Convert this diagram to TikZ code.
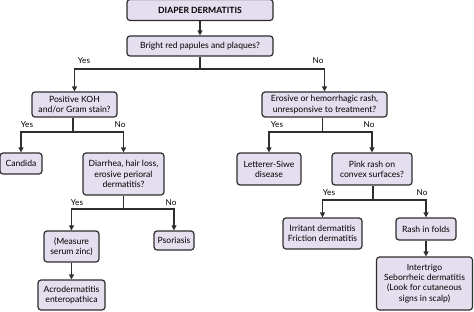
\documentclass[tikz,border=0pt]{standalone}
\usepackage{fontspec}
\setmainfont{Lato}
\usetikzlibrary{arrows.meta}
\definecolor{boxfill}{HTML}{E4DEEE}
\definecolor{edge}{HTML}{2E2E2E}
\tikzset{
  box/.style={draw=edge, line width=1.2pt, fill=boxfill, rounded corners=3pt, align=center,
    inner sep=0pt, font=\fontsize{8.6}{10.2}\selectfont, text=black},
  conn/.style={draw=edge, line width=1.2pt},
  arr/.style={conn, -{Triangle[length=5pt,width=5pt]}},
  lbl/.style={font=\fontsize{8.2}{9}\selectfont, inner sep=0pt}
}
\begin{document}
\begin{tikzpicture}[x=1pt, y=-1pt]
\useasboundingbox (0,0) rectangle (474,311);
\node[box, minimum width=146pt, minimum height=21pt, font=\fontsize{8.6}{10}\selectfont\bfseries] (title) at (200,10) {DIAPER DERMATITIS};
\node[box, minimum width=146pt, minimum height=20pt] (bright) at (200,46) {Bright red papules and plaques?};
\node[box, minimum width=85pt, minimum height=25pt] (koh) at (74.5,104.5) {Positive KOH\\and/or Gram stain?};
\node[box, minimum width=125pt, minimum height=25pt] (eros) at (324.5,104.5) {Erosive or hemorrhagic rash,\\unresponsive to treatment?};
\node[box, minimum width=42pt, minimum height=21pt] (cand) at (21,163.5) {Candida};
\node[box, minimum width=81pt, minimum height=42pt] (diar) at (123.5,174) {Diarrhea, hair loss,\\erosive perioral\\dermatitis?};
\node[box, minimum width=55pt, minimum height=31pt] (meas) at (71.5,246.5) {(Measure\\serum zinc)};
\node[box, minimum width=40pt, minimum height=19pt] (psor) at (174,240.5) {Psoriasis};
\node[box, minimum width=67pt, minimum height=30pt] (acro) at (71.5,295) {Acrodermatitis\\enteropathica};
\node[box, minimum width=64pt, minimum height=32pt] (lett) at (269,169) {Letterer-Siwe\\disease};
\node[box, minimum width=80pt, minimum height=32pt] (pink) at (372,169) {Pink rash on\\convex surfaces?};
\node[box, minimum width=79pt, minimum height=31pt] (irr) at (322.5,233.5) {Irritant dermatitis\\Friction dermatitis};
\node[box, minimum width=60pt, minimum height=22pt] (fold) at (426,229) {Rash in folds};
\node[box, minimum width=96pt, minimum height=53pt] (inter) at (424.5,283.5) {Intertrigo\\Seborrheic dermatitis\\(Look for cutaneous\\signs in scalp)};

\draw[arr] (title) -- (bright);
\coordinate (j1) at (200,69);
\draw[conn] (bright) -- (j1);
\draw[arr] (j1) -| (koh);
\draw[arr] (j1) -| (eros);
\node[lbl] (y1) at (84,61) {Yes};
\node[lbl] (n1) at (318,61) {No};

\coordinate (j2) at (73,132);
\draw[conn] (koh.south -| j2) -- (j2);
\draw[arr] (j2) -| (cand);
\draw[arr] (j2) -| (diar);
\node[lbl] (y2) at (27,125) {Yes};
\node[lbl] (n2) at (120,125) {No};

\coordinate (j3) at (322.5,132);
\draw[conn] (eros.south -| j3) -- (j3);
\draw[arr] (j3) -| (lett);
\draw[arr] (j3) -| (pink);
\node[lbl] (y3) at (277,125) {Yes};
\node[lbl] (n3) at (369,125) {No};

\coordinate (j4) at (123.5,209);
\draw[conn] (diar) -- (j4);
\draw[arr] (j4) -| (meas);
\draw[arr] (j4) -| (psor);
\node[lbl] (y4) at (77,203) {Yes};
\node[lbl] (n4) at (171,203) {No};

\coordinate (j5) at (373,200);
\draw[conn] (pink.south -| j5) -- (j5);
\draw[arr] (j5) -| (irr);
\draw[arr] (j5) -| (fold);
\node[lbl] (y5) at (329,193) {Yes};
\node[lbl] (n5) at (422,193) {No};

\draw[arr] (meas) -- (acro);
\draw[arr] (fold) -- (fold |- inter.north);
\end{tikzpicture}
\end{document}
